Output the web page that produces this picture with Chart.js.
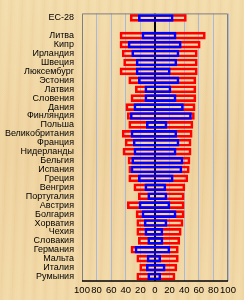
<!DOCTYPE html>
<html>
<head>
<meta charset="utf-8">
<script src="https://cdn.jsdelivr.net/npm/chart.js@4"></script>
<style>
html,body{margin:0;padding:0;}
body{width:244px;height:300px;overflow:hidden;
background:
 repeating-linear-gradient(92deg, rgba(200,160,90,0.10) 0px, rgba(200,160,90,0.0) 3px, rgba(255,240,200,0.10) 7px, rgba(200,160,90,0.06) 11px),
 linear-gradient(180deg,#f3dcac 0%,#efd3a0 50%,#f2d9a8 100%);}
#wrap{position:absolute;left:0;top:0;width:244px;height:300px;}
</style>
</head>
<body>
<div id="wrap"><canvas id="c" width="244" height="300"></canvas></div>
<script>
const categories = ["EC-28","","Литва","Кипр","Ирландия","Швеция","Люксембург","Эстония","Латвия","Словения","Дания","Финляндия","Польша","Великобритания","Франция","Нидерланды","Бельгия","Испания","Греция","Венгрия","Португалия","Австрия","Болгария","Хорватия","Чехия","Словакия","Германия","Мальта","Италия","Румыния"];
const redLow  = [-34,null,-48,-48,-45,-43,-48,-36,-27,-33,-40,-38,-36,-45,-41,-44,-37,-36,-36,-29,-23,-38,-26,-25,-25,-23,-33,-25,-21,-25];
const redHigh = [43,null,69,62,58,58,58,56,56,56,55,54,52,51,49.5,49.5,48,47,45,41,40,40,40,38.5,36,34,32,32,30,27.5];
const blueLow  = [-23,null,-18,-37,-32,-26,-26,-23,-14,-14,-29,-34,-12,-33,-30,-29,-32,-33,-23,-14,-10,-22,-18,-15,-14,-10,-27.5,-11,-12,-10];
const blueHigh = [25,null,29,36,33,30,21,33,22,29,39,50,16.5,30,33,29,38.5,37,25,15,16.5,20.5,29,16.5,11,11,20.5,8,14,8];
const xTicks = [-100,-80,-60,-40,-20,0,20,40,60,80,100];

const pairs = (lo, hi) => lo.map((v, i) => (v === null ? null : [v, hi[i]]));

const frame = {
  id: 'frame',
  afterDraw(chart) {
    const a = chart.chartArea, ctx = chart.ctx;
    ctx.save();
    ctx.strokeStyle = '#7f7f7f';
    ctx.lineWidth = 1;
    ctx.beginPath();
    ctx.moveTo(a.left + 0.5, a.bottom);
    ctx.lineTo(a.left + 0.5, a.top + 0.5);
    ctx.lineTo(a.right - 0.5, a.top + 0.5);
    ctx.lineTo(a.right - 0.5, a.bottom);
    ctx.stroke();
    ctx.strokeStyle = '#000';
    ctx.lineWidth = 1.5;
    ctx.beginPath();
    ctx.moveTo(a.left, a.bottom);
    ctx.lineTo(a.right, a.bottom);
    ctx.stroke();
    ctx.restore();
  }
};

new Chart(document.getElementById('c'), {
  type: 'bar',
  data: {
    labels: categories,
    datasets: [
      { label: 'blue', data: pairs(blueLow, blueHigh), backgroundColor: 'rgba(0,0,0,0)', borderColor: '#0000ff', borderWidth: 2, borderSkipped: false },
      { label: 'red', data: pairs(redLow, redHigh), backgroundColor: 'rgba(0,0,0,0)', borderColor: '#ff0000', borderWidth: 2, borderSkipped: false }
    ]
  },
  options: {
    indexAxis: 'y',
    responsive: false,
    animation: false,
    grouped: false,
    barThickness: 7,
    layout: { padding: { top: 9, right: 16, left: 0, bottom: 0 } },
    plugins: { legend: { display: false }, tooltip: { enabled: false } },
    scales: {
      x: {
        type: 'linear', min: -100, max: 100,
        afterBuildTicks(s) { s.ticks = xTicks.map(v => ({ value: v })); },
        afterFit(s) { s.height = 19; },
        ticks: { padding: 4, color: '#000', font: { family: 'Liberation Sans', size: 9.5 }, callback: v => String(Math.abs(v)), maxRotation: 0, autoSkip: false },
        grid: {
          drawTicks: false,
          color: c => (c.tick && c.tick.value === 0 ? '#000' : '#a9b9dc'),
          lineWidth: c => (c.tick && c.tick.value === 0 ? 2 : 1)
        },
        border: { display: false }
      },
      y: {
        afterFit(s) { s.width = 82; },
        ticks: { padding: 8, color: '#000', font: { family: 'Liberation Sans', size: 9 }, autoSkip: false },
        grid: { display: false, drawTicks: false },
        border: { display: false }
      }
    }
  },
  plugins: [frame]
});
</script>
</body>
</html>
